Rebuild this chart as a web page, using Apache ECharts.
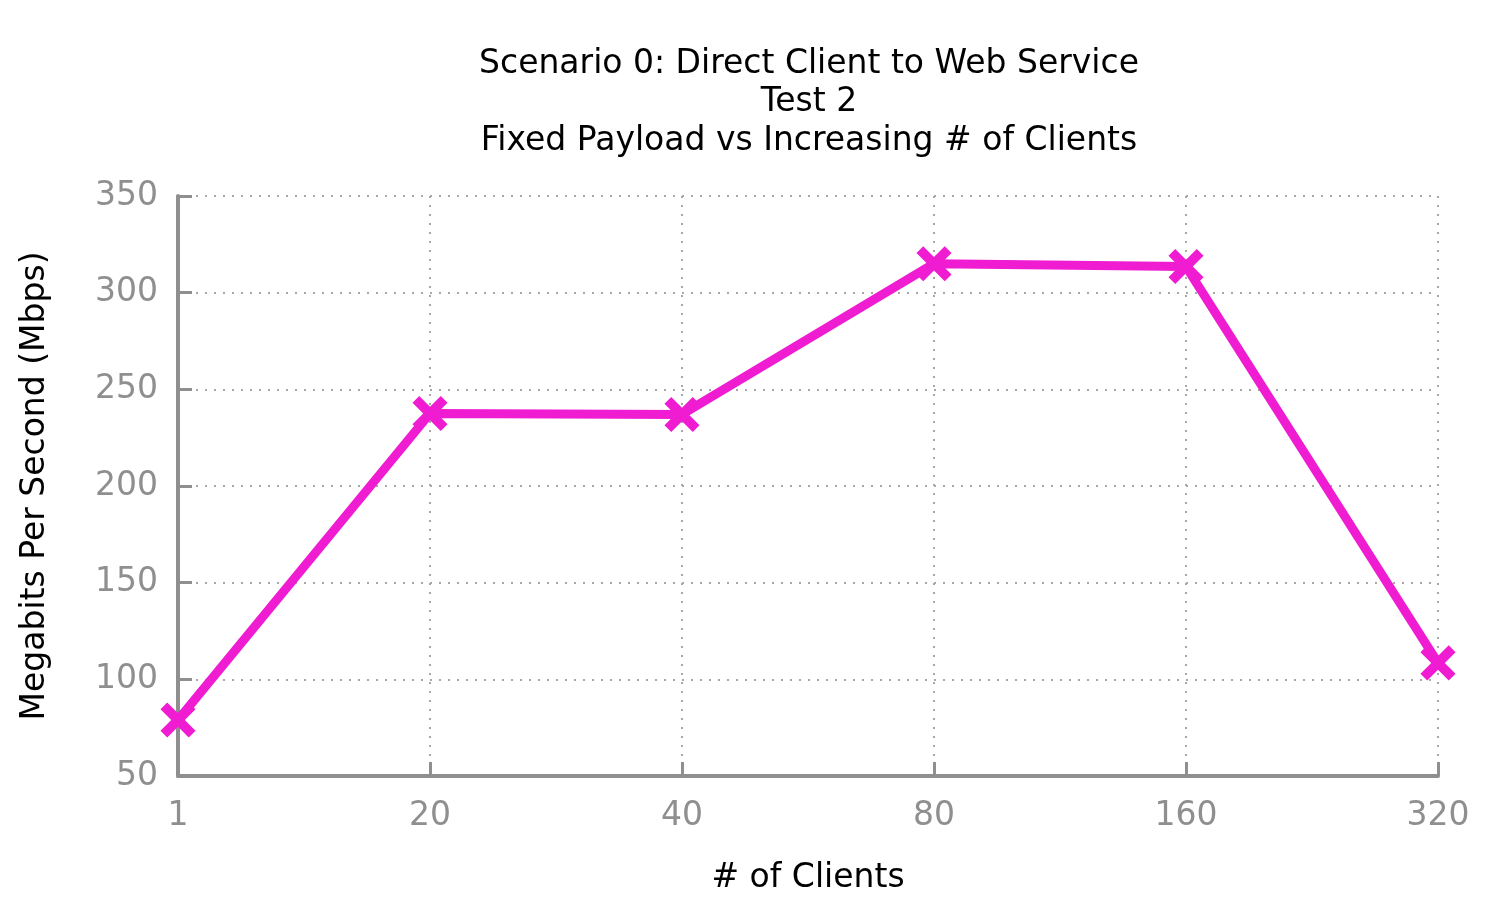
<!DOCTYPE html>
<html><head><meta charset="utf-8">
<script src="https://cdn.jsdelivr.net/npm/echarts@6/dist/echarts.min.js"></script>
<style>html,body{margin:0;padding:0;background:#fff}#c{width:1500px;height:900px}</style>
</head><body><div id="c"></div>
<script>
const categories = ['1', '20', '40', '80', '160', '320'];
const mbps = [79, 237.5, 237, 315, 313.5, 108.5];
const yTicks = { min: 50, max: 350, interval: 50 };
const titleLines = ['Scenario 0: Direct Client to Web Service', 'Test 2', 'Fixed Payload vs Increasing # of Clients'];

const gray = '#8f8f8f';
const magenta = '#f01cd2';
const font = 'DejaVu Sans';
const fs = 33;
const xPath = 'path://M3.8,0L6.2,0L6.2,3.8L10,3.8L10,6.2L6.2,6.2L6.2,10L3.8,10L3.8,6.2L0,6.2L0,3.8L3.8,3.8Z';

const chart = echarts.init(document.getElementById('c'), null, { renderer: 'canvas' });
chart.setOption({
  backgroundColor: '#fff',
  animation: false,
  title: {
    text: titleLines.join('\n'),
    left: 804, textAlign: 'center', top: 40,
    textStyle: { fontFamily: font, fontSize: fs, fontWeight: 'normal', color: '#000', lineHeight: 38.5 }
  },
  grid: { left: 178, right: 62, top: 196, bottom: 122 },
  xAxis: {
    type: 'category', data: categories, boundaryGap: false,
    name: '# of Clients', nameLocation: 'middle', nameGap: 86,
    nameTextStyle: { fontFamily: font, fontSize: fs, color: '#000' },
    axisLine: { show: true, lineStyle: { color: gray, width: 4 } },
    axisTick: { show: true, inside: true, length: 14, alignWithLabel: true, lineStyle: { color: gray, width: 3 } },
    axisLabel: { fontFamily: font, fontSize: fs, color: gray, margin: 24 },
    splitLine: { show: true, lineStyle: { color: '#a8a8a8', width: 2, type: [2, 7] } }
  },
  yAxis: {
    type: 'value', min: yTicks.min, max: yTicks.max, interval: yTicks.interval,
    name: 'Megabits Per Second (Mbps)', nameLocation: 'middle', nameGap: 126, nameRotate: 90,
    nameTextStyle: { fontFamily: font, fontSize: fs, color: '#000' },
    axisLine: { show: true, lineStyle: { color: gray, width: 4 } },
    axisTick: { show: true, inside: true, length: 14, lineStyle: { color: gray, width: 3 } },
    axisLabel: { fontFamily: font, fontSize: fs, color: gray, margin: 20, padding: [4, 0, 0, 0] },
    splitLine: { show: true, lineStyle: { color: '#a8a8a8', width: 2, type: [2, 7] } }
  },
  series: [{
    type: 'line', data: mbps,
    lineStyle: { color: magenta, width: 9 },
    itemStyle: { color: magenta },
    symbol: xPath, symbolSize: 40, symbolRotate: 45, showAllSymbol: true,
    z: 5
  }]
});
</script></body></html>
